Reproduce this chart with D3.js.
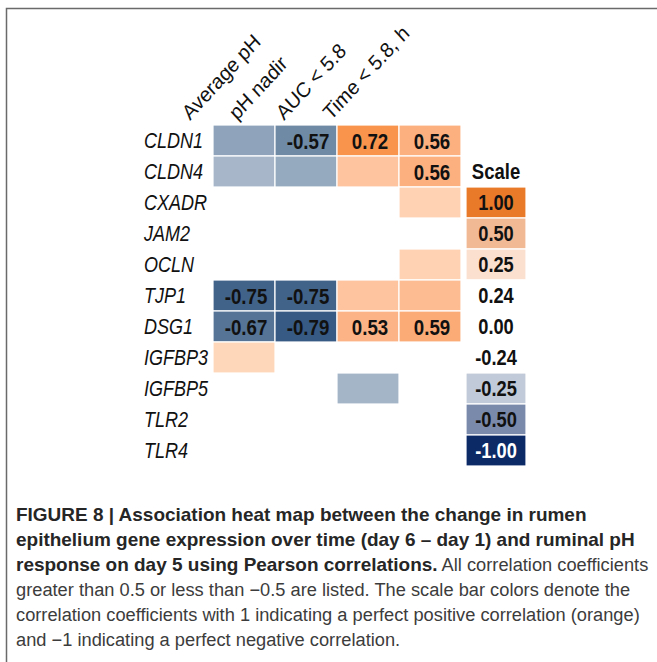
<!DOCTYPE html>
<html>
<head>
<meta charset="utf-8">
<script src="https://cdn.jsdelivr.net/npm/d3@7"></script>
<style>
  html, body { margin: 0; padding: 0; background: #fff; }
  svg { display: block; }
</style>
</head>
<body>
<svg id="chart" width="657" height="662"></svg>
<script>
// Genes (rows) and ruminal pH measures (columns)
const genes = ["CLDN1", "CLDN4", "CXADR", "JAM2", "OCLN", "TJP1", "DSG1", "IGFBP3", "IGFBP5", "TLR2", "TLR4"];
const measures = ["Average pH", "pH nadir", "AUC < 5.8", "Time < 5.8, h"];

// Pearson correlation per gene for each measure (null = |r| below 0.25, left blank)
const avgPH   = [-0.43, -0.33, null, null, null, -0.75, -0.67, 0.30, null, null, null];
const phNadir = [-0.57, -0.40, null, null, null, -0.75, -0.79, null, null, null, null];
const auc58   = [0.72, 0.42, null, null, null, 0.42, 0.53, null, -0.34, null, null];
const time58  = [0.56, 0.56, 0.33, null, 0.33, 0.48, 0.59, null, null, null, null];

// Scale bar entries (top to bottom) and their swatch colours
const scaleLabels = ["1.00", "0.50", "0.25", "0.24", "0.00", "-0.24", "-0.25", "-0.50", "-1.00"];
const scaleColors = ["#e97a2a", "#f2b995", "#fbe0d0", "#ffffff", "#ffffff", "#ffffff", "#c0cad8", "#7a8aab", "#0b2a66"];

const captionLines = [
  [["FIGURE 8 | Association heat map between the change in rumen", true]],
  [["epithelium gene expression over time (day 6 \u2013 day 1) and ruminal pH", true]],
  [["response on day 5 using Pearson correlations.", true], [" All correlation coefficients", false]],
  [["greater than 0.5 or less than \u22120.5 are listed. The scale bar colors denote the", false]],
  [["correlation coefficients with 1 indicating a perfect positive correlation (orange)", false]],
  [["and \u22121 indicating a perfect negative correlation.", false]]
];

const columns = [avgPH, phNadir, auc58, time58];
const cells = [];
measures.forEach((m, j) => {
  columns[j].forEach((v, i) => {
    if (v !== null) cells.push({ gene: genes[i], measure: m, value: v });
  });
});

const fmt = d3.formatLocale({ decimal: ".", thousands: ",", grouping: [3], currency: ["", ""], minus: "-" }).format(".2f");

const svg = d3.select("#chart");

// Figure frame
svg.append("path")
  .attr("d", "M6.5,662 V8.5 H657")
  .attr("fill", "none")
  .attr("stroke", "#6a6a6a")
  .attr("stroke-width", 1.5);

const x = d3.scaleBand().domain(measures).range([213, 461]);
const y = d3.scaleBand().domain(genes).range([125, 466]);

const color = d3.scaleLinear()
  .domain([-0.8, -0.57, -0.3, 0.3, 0.56, 0.75])
  .range(["#345883", "#6e8aa5", "#aebdce", "#fed6ba", "#fcb07f", "#f78f43"])
  .clamp(true);

const sans = "'Liberation Sans', Arial, sans-serif";
const squeeze = 0.83; // condensed lettering for numbers and gene names

// Heat map cells
svg.append("g").selectAll("rect")
  .data(cells)
  .join("rect")
  .attr("x", d => x(d.measure))
  .attr("y", d => y(d.gene))
  .attr("width", x.bandwidth())
  .attr("height", y.bandwidth())
  .attr("fill", d => color(d.value))
  .attr("stroke", "#fff")
  .attr("stroke-width", 1.2);

// Coefficients stated for |r| > 0.5
svg.append("g").selectAll("text")
  .data(cells.filter(d => Math.abs(d.value) > 0.5))
  .join("text")
  .attr("transform", d => `translate(${x(d.measure) + x.bandwidth() / 2 + 2},${y(d.gene) + y.bandwidth() / 2}) scale(${squeeze},1)`)
  .attr("dy", "0.36em")
  .attr("text-anchor", "middle")
  .attr("font-family", sans)
  .attr("font-weight", "bold")
  .attr("font-size", 22.5)
  .attr("fill", "#111")
  .text(d => fmt(d.value));

// Gene names
svg.append("g").selectAll("text")
  .data(genes)
  .join("text")
  .attr("transform", d => `translate(144,${y(d) + y.bandwidth() / 2}) scale(${squeeze - 0.01},1)`)
  .attr("dy", "0.36em")
  .attr("font-family", sans)
  .attr("font-style", "italic")
  .attr("font-size", 22)
  .attr("fill", "#111")
  .text(d => d);

// Slanted measure headers
const headerX = d3.scaleLinear().domain([0, measures.length - 1])
  .range([x(measures[0]) - 23, x(measures[measures.length - 1]) - 68]);
svg.append("g").selectAll("text")
  .data(measures)
  .join("text")
  .attr("transform", (d, i) => `translate(${headerX(i)},121) scale(0.92,1) rotate(-45)`)
  .attr("font-family", sans)
  .attr("font-size", 21)
  .attr("fill", "#111")
  .text(d => d);

// Scale bar
const sx = 466, sw = 60;
const scaleRows = genes.slice(2);
const legend = svg.append("g");
legend.append("text")
  .attr("transform", `translate(${sx + sw / 2},${y(genes[1]) + y.bandwidth() / 2}) scale(${squeeze + 0.03},1)`)
  .attr("dy", "0.36em")
  .attr("text-anchor", "middle")
  .attr("font-family", sans)
  .attr("font-weight", "bold")
  .attr("font-size", 21.5)
  .attr("fill", "#111")
  .text("Scale");

legend.selectAll("rect")
  .data(scaleLabels)
  .join("rect")
  .attr("x", sx)
  .attr("y", (d, i) => y(scaleRows[i]))
  .attr("width", sw)
  .attr("height", y.bandwidth())
  .attr("fill", (d, i) => scaleColors[i])
  .attr("stroke", "#fff")
  .attr("stroke-width", 1.2);

legend.selectAll("text.lbl")
  .data(scaleLabels)
  .join("text")
  .attr("class", "lbl")
  .attr("transform", (d, i) => `translate(${sx + sw / 2},${y(scaleRows[i]) + y.bandwidth() / 2}) scale(${squeeze},1)`)
  .attr("dy", "0.36em")
  .attr("text-anchor", "middle")
  .attr("font-family", sans)
  .attr("font-weight", "bold")
  .attr("font-size", 22)
  .attr("fill", (d, i) => i === scaleLabels.length - 1 ? "#fff" : "#111")
  .text(d => d);

// Caption: bold lead-in and lighter body, fitted to the frame width
const capLeft = 16;
const cap = svg.append("g");
const capText = cap.selectAll("text")
  .data(captionLines)
  .join("text")
  .attr("x", 0)
  .attr("y", (d, i) => 521 + i * 25)
  .attr("font-family", sans)
  .attr("font-size", 18);
capText.each(function (parts) {
  d3.select(this).selectAll("tspan")
    .data(parts)
    .join("tspan")
    .attr("class", p => p[1] ? "b" : "r")
    .attr("font-weight", p => p[1] ? "bold" : "normal")
    .attr("fill", p => p[1] ? "#262626" : "#3c3c3c")
    .text(p => p[0]);
});
const nodes = capText.nodes();
const k = (640 - capLeft) / nodes[4].getComputedTextLength();
const boldSize = 18 * (587 - capLeft) / (k * nodes[0].getComputedTextLength());
cap.selectAll("tspan.b").attr("font-size", boldSize);
cap.attr("transform", `translate(${capLeft},0) scale(${k},1)`);
</script>
</body>
</html>
